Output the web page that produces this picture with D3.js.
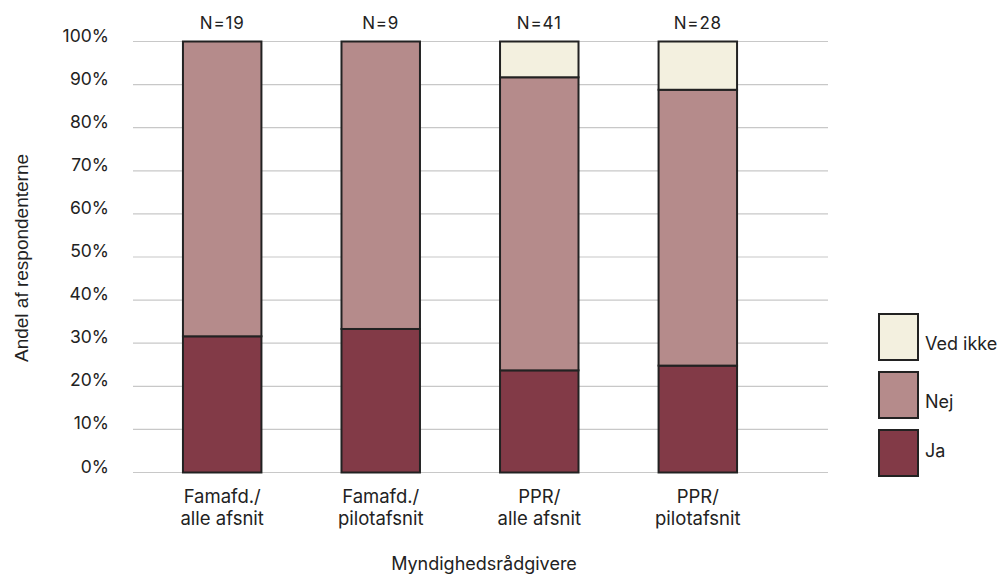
<!DOCTYPE html>
<html><head><meta charset="utf-8">
<script src="https://cdn.jsdelivr.net/npm/d3@7"></script>
<style>body{margin:0;background:#fff;} text{font-family:Inter,"Noto Sans",sans-serif;fill:#222;}</style>
</head><body><svg id="c" width="998" height="575"></svg>
<script>
const categories = [["Famafd./","alle afsnit"],["Famafd./","pilotafsnit"],["PPR/","alle afsnit"],["PPR/","pilotafsnit"]];
const nLabels = ["N=19","N=9","N=41","N=28"];
const seriesNames = ["Ja","Nej","Ved ikke"];
const ja = [31.6, 33.3, 23.7, 24.8];
const nej = [68.4, 66.7, 68.0, 64.0];
const vedIkke = [0, 0, 8.3, 11.2];
const yTicks = [0,10,20,30,40,50,60,70,80,90,100];
const colors = ["#823a47","#b58b8b","#f3f0df"];

const svg = d3.select("#c");
const y = d3.scaleLinear().domain([0,100]).range([472.5,41.5]);
const x = d3.scaleBand().domain(d3.range(4)).range([143,777]).paddingInner(0.505).paddingOuter(0.252);

svg.append("g").selectAll("line").data(yTicks).join("line")
  .attr("x1",133).attr("x2",828).attr("y1",d=>y(d)).attr("y2",d=>y(d))
  .attr("stroke","#c8c8c8").attr("stroke-width",1.2);
svg.append("g").selectAll("text").data(yTicks).join("text")
  .attr("x",109).attr("y",d=>y(d)).attr("text-anchor","end")
  .attr("font-size",17.5).text(d=>d+"%");

const rows = categories.map((c,i)=>({i, Ja:ja[i], Nej:nej[i], "Ved ikke":vedIkke[i]}));
const stack = d3.stack().keys(seriesNames)(rows);
const g = svg.append("g");
stack.forEach((s,k)=>{
  g.selectAll(null).data(s.filter(d=>d[1]-d[0]>0)).join("rect")
    .attr("x",d=>x(d.data.i)).attr("width",x.bandwidth())
    .attr("y",d=>y(d[1])).attr("height",d=>y(d[0])-y(d[1]))
    .attr("fill",colors[k]).attr("stroke","#222").attr("stroke-width",2);
});
svg.append("g").selectAll("text").data(nLabels).join("text")
  .attr("x",(d,i)=>x(i)+x.bandwidth()/2).attr("y",29).attr("text-anchor","middle")
  .attr("font-size",17).attr("letter-spacing","0.8px").text(d=>d);
const cl = svg.append("g").selectAll("text").data(categories).join("text")
  .attr("text-anchor","middle").attr("font-size",18.5);
cl.selectAll("tspan").data((d,i)=>d.map(t=>({t,i}))).join("tspan")
  .attr("x",d=>x(d.i)+x.bandwidth()/2).attr("y",(d,j)=>503+j*22).text(d=>d.t);
svg.append("text").attr("x",484).attr("y",570).attr("text-anchor","middle").attr("font-size",18).text("Myndighedsrådgivere");
svg.append("text").attr("transform","translate(28,258) rotate(-90)").attr("text-anchor","middle")
  .style("font-family","'Liberation Sans',Arial,sans-serif").attr("font-size",19).text("Andel af respondenterne");
const leg = ["Ved ikke","Nej","Ja"];
const txtOff = [36, 36, 27];
const lg = svg.append("g").selectAll("g").data(leg).join("g")
  .attr("transform",(d,i)=>`translate(879,${314+i*58})`);
lg.append("rect").attr("width",39).attr("height",46)
  .attr("fill",d=>colors[seriesNames.indexOf(d)]).attr("stroke","#222").attr("stroke-width",2);
lg.append("text").attr("x",46).attr("y",(d,i)=>txtOff[i]).attr("font-size",18).text(d=>d);
</script></body></html>
